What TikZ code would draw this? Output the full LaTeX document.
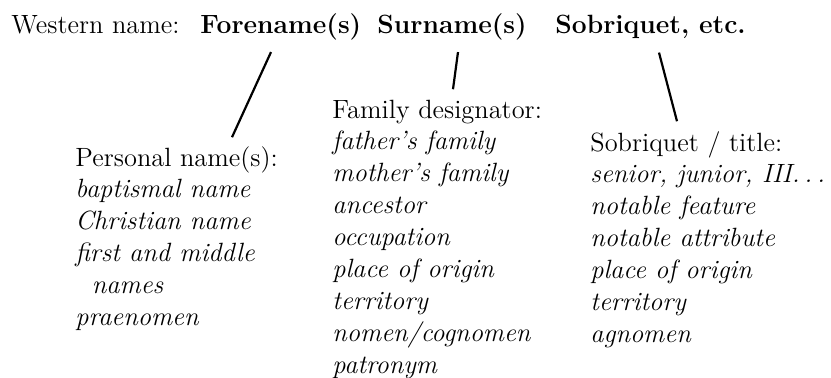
\documentclass[12pt,tikz,border=0pt]{standalone}
\tikzset{
  namepart/.style={anchor=base west,inner sep=0pt,font=\bfseries},
  plaintext/.style={anchor=base west,inner sep=0pt},
  pointer/.style={line width=1pt}
}
\newcommand{\spaceddots}{.\kern\fontdimen3\font.\kern\fontdimen3\font.}
\begin{document}
\begin{tikzpicture}[x=0.4545pt,y=-0.4545pt]
\useasboundingbox (0,0) rectangle (831,377);
% the name itself
\node[plaintext] (western) at (11,33) {Western name:};
\node[namepart] (fore) at (200,33) {Forename(s)};
\node[namepart] (sur) at (377,33) {Surname(s)};
\node[namepart] (sobr) at (555,33) {Sobriquet, etc.};
% what each part can be
\node[plaintext] (personal) at (75,166) {\begin{tabular}[t]{@{}l@{}}
Personal name(s):\\
\itshape baptismal name\\
\itshape Christian name\\
\itshape first and middle\\
\itshape \hspace*{7.5pt}names\\
\itshape praenomen
\end{tabular}};
\node[plaintext] (family) at (332,118) {\begin{tabular}[t]{@{}l@{}}
Family designator:\\
\itshape father's family\\
\itshape mother's family\\
\itshape ancestor\\
\itshape occupation\\
\itshape place of origin\\
\itshape territory\\
\itshape nomen/cognomen\\
\itshape patronym
\end{tabular}};
\node[plaintext] (title) at (590,151) {\begin{tabular}[t]{@{}l@{}}
Sobriquet / title:\\
\itshape senior, junior, III\spaceddots\\
\itshape notable feature\\
\itshape notable attribute\\
\itshape place of origin\\
\itshape territory\\
\itshape agnomen
\end{tabular}};
\draw[pointer] ([shift={(71,12)}]fore.south west) -- ([shift={(157,-6)}]personal.north west);
\draw[pointer] ([shift={(81,12)}]sur.south west) -- ([shift={(121,-6)}]family.north west);
\draw[pointer] ([shift={(104,14)}]sobr.south west) -- ([shift={(87,-7)}]title.north west);
\end{tikzpicture}
\end{document}
